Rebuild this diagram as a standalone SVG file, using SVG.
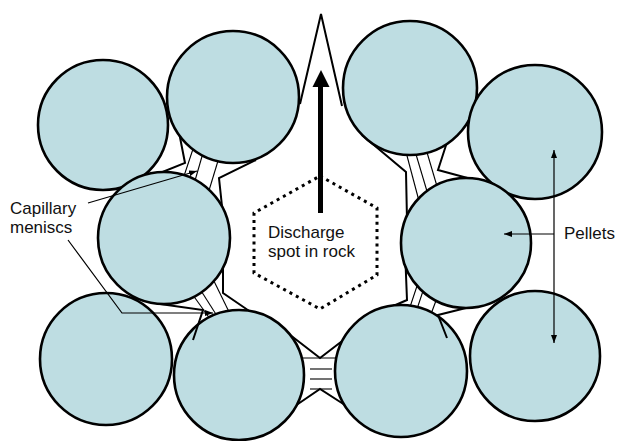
<svg xmlns="http://www.w3.org/2000/svg" width="621" height="441" viewBox="0 0 621 441">
  <style>
    .pellet { fill: #bedde2; stroke: #000; stroke-width: 2.6; }
    .edge { fill: none; stroke: #000; stroke-width: 2; stroke-linejoin: miter; }
    .men { fill: none; stroke: #000; stroke-width: 1.1; }
    .lead { fill: none; stroke: #000; stroke-width: 1.2; }
    .lbl { font-family: "Liberation Sans", Arial, Helvetica, sans-serif; font-size: 17px; fill: #111; }
  </style>
  <defs>
    <marker id="tip" viewBox="0 0 8 6" refX="8" refY="3" markerWidth="8" markerHeight="6" markerUnits="userSpaceOnUse" orient="auto-start-reverse">
      <path d="M0,0 L8,3 L0,6 z" fill="#000"/>
    </marker>
  </defs>
  <rect x="0" y="0" width="621" height="441" fill="#fff"/>

  <!-- pore outline and liquid bridges, partly covered by the pellets -->
  <g id="pore-back">
    <path class="edge" d="M177,122 L185,163 L150,177"/>
    <path class="edge" d="M256,160 L219,178 L224,225"/>
    <path class="edge" d="M223,255 L223,293 L258,317"/>
    <path class="edge" d="M449,136 L438,170 L486,183"/>
    <path class="edge" d="M362,135 L406,172 L407,220"/>
    <path class="edge" d="M405,250 L407,300 L375,314"/>
    <path class="edge" d="M285,331 L320,358 L350,335"/>
    <path class="edge" d="M295,406 L320,389 L348,407"/>
    <g class="men">
      <line x1="195" y1="143" x2="182" y2="182"/>
      <line x1="205" y1="146" x2="192" y2="191"/>
      <line x1="221" y1="151" x2="207" y2="197"/>
      <line x1="190" y1="291" x2="218" y2="330"/>
      <line x1="198" y1="286" x2="226" y2="330"/>
      <line x1="211" y1="275" x2="233" y2="320"/>
      <line x1="406" y1="152" x2="419" y2="201"/>
      <line x1="415" y1="151" x2="429" y2="198"/>
      <line x1="426" y1="149" x2="439" y2="193"/>
      <line x1="419" y1="280" x2="405" y2="322"/>
      <line x1="426" y1="282" x2="414" y2="318"/>
      <line x1="440" y1="290" x2="425" y2="330"/>
      <line x1="300" y1="358" x2="345" y2="358"/>
      <line x1="310" y1="369" x2="332" y2="369"/>
      <line x1="310" y1="379" x2="332" y2="379"/>
      <line x1="310" y1="389" x2="332" y2="389"/>
    </g>
  </g>

  <g id="pellet-1"><circle class="pellet" cx="103" cy="125" r="65"/></g>
  <g id="pellet-2"><circle class="pellet" cx="233" cy="97" r="66"/></g>
  <g id="pellet-3"><circle class="pellet" cx="164" cy="238" r="66"/></g>
  <g id="pellet-4"><circle class="pellet" cx="106" cy="359" r="66"/></g>
  <g id="pellet-5"><circle class="pellet" cx="239" cy="375" r="65"/></g>
  <g id="pellet-6"><circle class="pellet" cx="410" cy="88" r="67"/></g>
  <g id="pellet-7"><circle class="pellet" cx="535" cy="132" r="67"/></g>
  <g id="pellet-8"><circle class="pellet" cx="466" cy="243" r="65"/></g>
  <g id="pellet-9"><circle class="pellet" cx="401" cy="371" r="66"/></g>
  <g id="pellet-10"><circle class="pellet" cx="535" cy="356" r="65"/></g>

  <!-- crack lines lying over the pellets -->
  <g id="pore-front">
    <path class="edge" d="M300,104 L321,14 L342,106"/>
    <path class="edge" d="M160,304 L203,310 L193,340"/>
    <path class="edge" d="M466,308 L438,315 L447,338"/>
  </g>

  <g id="discharge-spot">
    <path d="M320,176 L377,208 L377,275 L320,309 L254,273 L254,213 Z" fill="none" stroke="#000" stroke-width="3" stroke-dasharray="3 4.2"/>
    <line x1="320.5" y1="86" x2="320.5" y2="213" stroke="#000" stroke-width="5"/>
    <path d="M321,70 L312.5,87 L329.5,87 Z" fill="#000"/>
    <text class="lbl" x="268" y="238">Discharge</text>
    <text class="lbl" x="268" y="257">spot in rock</text>
  </g>

  <g id="connectors">
    <path class="lead" d="M88,203 L197,171" marker-end="url(#tip)"/>
    <path class="lead" d="M68,240 L122,313 L213,313" marker-end="url(#tip)"/>
    <path class="lead" d="M554,150 L554,343" marker-start="url(#tip)" marker-end="url(#tip)"/>
    <path class="lead" d="M554,234 L504,234" marker-end="url(#tip)"/>
  </g>

  <g id="labels">
    <text class="lbl" x="10" y="214">Capillary</text>
    <text class="lbl" x="10" y="233">meniscs</text>
    <text class="lbl" x="564" y="239">Pellets</text>
  </g>
</svg>
